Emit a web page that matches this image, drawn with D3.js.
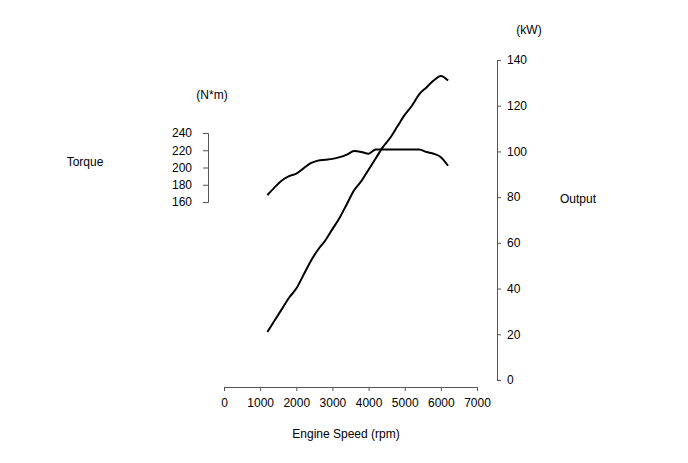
<!DOCTYPE html>
<html>
<head>
<meta charset="utf-8">
<script src="https://cdn.jsdelivr.net/npm/d3@7"></script>
<style>
body{margin:0;background:#fff;}
svg text{font-family:"Liberation Sans",Arial,sans-serif;font-size:12px;fill:#000;}
.axis path,.axis line{stroke:#555;stroke-width:1;}
</style>
</head>
<body>
<div id="chart"></div>
<script>
// engine data
var rpm    = [1200,1400,1600,1800,2000,2200,2400,2600,2800,3000,3200,3400,3600,3800,4000,4200,4400,4600,4800,5000,5200,5400,5600,5800,6000,6200];
var torque = [168,177,185,190,193,199,205,208,209,210,212,215,219,218,216,221,221,221,221,221,221,221,218,216,212,202];
var output = [21,26,31,36,40,46,52,57,61,66,71,77,83,87,92,97,102,106,111,116,120,125,128,131,133,131];

var rpmTicks = [0,1000,2000,3000,4000,5000,6000,7000];
var torqueTicks = [160,180,200,220,240];
var outputTicks = [0,20,40,60,80,100,120,140];

var W = 688, H = 463;
var svg = d3.select("#chart").append("svg").attr("width",W).attr("height",H);

var x = d3.scaleLinear().domain([0,7000]).range([224,477]);
var yT = d3.scaleLinear().domain([160,240]).range([202,133]);
var yP = d3.scaleLinear().domain([0,140]).range([380,60]);

// x axis
svg.append("g").attr("class","axis")
	.attr("transform","translate(0,387)")
	.call(d3.axisBottom(x).tickValues(rpmTicks).tickSize(4).tickSizeOuter(4).tickPadding(7).tickFormat(d3.format("d")));

// torque axis (left)
svg.append("g").attr("class","axis")
	.attr("transform","translate(208,0)")
	.call(d3.axisLeft(yT).tickValues(torqueTicks).tickSize(5).tickSizeOuter(5).tickPadding(11).tickFormat(d3.format("d")));

// output axis (right)
svg.append("g").attr("class","axis")
	.attr("transform","translate(497,0)")
	.call(d3.axisRight(yP).tickValues(outputTicks).tickSize(4).tickSizeOuter(4).tickPadding(6).tickFormat(d3.format("d")));

svg.selectAll(".axis .domain").attr("stroke","#555");
svg.selectAll(".axis text").attr("fill","#000").style("font-size","12px").style("font-family","Liberation Sans, Arial, sans-serif");

var lineT = d3.line().x(function(d,i){return x(rpm[i]);}).y(function(d){return yT(d);}).curve(d3.curveMonotoneX);
var lineP = d3.line().x(function(d,i){return x(rpm[i]);}).y(function(d){return yP(d);}).curve(d3.curveMonotoneX);

svg.append("path").datum(torque).attr("d",lineT)
	.attr("fill","none").attr("stroke","#000").attr("stroke-width",2);
svg.append("path").datum(output).attr("d",lineP)
	.attr("fill","none").attr("stroke","#000").attr("stroke-width",2);

// labels
svg.append("text").attr("x",212).attr("y",99).attr("text-anchor","middle").text("(N*m)");
svg.append("text").attr("x",85).attr("y",166).attr("text-anchor","middle").text("Torque");
svg.append("text").attr("x",529).attr("y",34).attr("text-anchor","middle").text("(kW)");
svg.append("text").attr("x",578).attr("y",203).attr("text-anchor","middle").text("Output");
svg.append("text").attr("x",346).attr("y",438).attr("text-anchor","middle").text("Engine Speed (rpm)");
</script>
</body>
</html>
